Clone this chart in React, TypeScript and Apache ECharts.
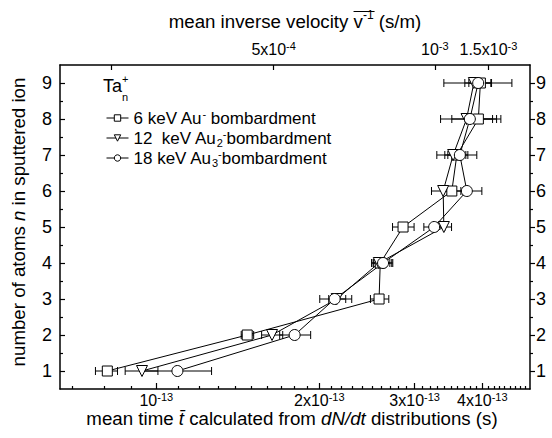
import React, { useEffect, useRef } from 'react';
import * as echarts from 'echarts';

const FONT = '"Liberation Sans", Arial, Helvetica, sans-serif';

// number of atoms n
const nValues = [1, 2, 3, 4, 5, 6, 7, 8, 9];

// 6 keV Au- bombardment (squares): mean time t (s) and error-bar ends
const sqT = [8.12e-14, 1.472e-13, 2.579e-13, 2.592e-13, 2.856e-13, 3.514e-13, 3.59e-13, 3.934e-13, 3.968e-13];
const sqLow = [7.72e-14, 1.435e-13, 2.486e-13, 2.5e-13, 2.731e-13, 3.397e-13, 3.455e-13, 3.741e-13, 3.778e-13];
const sqHigh = [8.48e-14, 1.513e-13, 2.688e-13, 2.722e-13, 2.993e-13, 3.652e-13, 3.73e-13, 4.251e-13, 4.148e-13];

// 12 keV Au2- bombardment (down triangles)
const triT = [9.41e-14, 1.636e-13, 2.154e-13, 2.576e-13, 3.397e-13, 3.387e-13, 3.534e-13, 3.741e-13, 3.859e-13];
const triLow = [8.76e-14, 1.565e-13, 2.082e-13, 2.5e-13, 3.283e-13, 3.223e-13, 3.297e-13, 3.35e-13, 3.714e-13];
const triHigh = [1.007e-13, 1.712e-13, 2.238e-13, 2.7e-13, 3.51e-13, 3.559e-13, 3.762e-13, 4.179e-13, 4.161e-13];

// 18 keV Au3- bombardment (circles)
const cirT = [1.094e-13, 1.801e-13, 2.135e-13, 2.623e-13, 3.26e-13, 3.746e-13, 3.636e-13, 3.794e-13, 3.931e-13];
const cirLow = [9.43e-14, 1.69e-13, 2.004e-13, 2.52e-13, 3.12e-13, 3.514e-13, 3.411e-13, 3.514e-13, 3.397e-13];
const cirHigh = [1.265e-13, 1.928e-13, 2.296e-13, 2.734e-13, 3.411e-13, 3.993e-13, 3.908e-13, 4.329e-13, 4.537e-13];

const seriesNames = ['6 keV Au- bombardment', '12 keV Au2- bombardment', '18 keV Au3- bombardment'];
const legendLabels = [
  '6 keV Au{sup|-} bombardment',
  '12  keV Au{sub|2}{sup|-}bombardment',
  '18 keV Au{sub|3}{sup|-}bombardment',
];

// axis ranges and ticks
const tMin = 6.64e-14;
const tMax = 4.9e-13;
const bottomMajorTicks = [1e-13, 2e-13, 3e-13, 4e-13];
const bottomTickLabels = ['10^-13', '2x10^-13', '3x10^-13', '4x10^-13'];
const bottomMinorTicks = [
  7e-14, 8e-14, 9e-14,
  1.1e-13, 1.2e-13, 1.3e-13, 1.4e-13, 1.5e-13, 1.6e-13, 1.7e-13, 1.8e-13, 1.9e-13,
  2.1e-13, 2.2e-13, 2.3e-13, 2.4e-13, 2.5e-13, 2.6e-13, 2.7e-13, 2.8e-13, 2.9e-13,
  3.1e-13, 3.2e-13, 3.3e-13, 3.4e-13, 3.5e-13, 3.6e-13, 3.7e-13, 3.8e-13, 3.9e-13,
  4.1e-13, 4.2e-13, 4.3e-13, 4.4e-13, 4.5e-13, 4.6e-13, 4.7e-13, 4.8e-13,
];
// top axis (mean inverse velocity), placed at the equivalent mean time
const topTickTimes = [1.647e-13, 3.269e-13, 4.106e-13];
const topTickLabels = ['5x10^-4', '10^-3', '1.5x10^-3'];
const topMinorTimes = [8.26e-14];

const yMin = 0.5;
const yMax = 9.5;
const yMajorTicks = [1, 2, 3, 4, 5, 6, 7, 8, 9];
const yMinorTicks = [1.5, 2.5, 3.5, 4.5, 5.5, 6.5, 7.5, 8.5];

const toRich = (s: string) => {
  const [base, exp] = s.split('^');
  return exp ? `{n|${base}}{s|${exp}}` : `{n|${base}}`;
};
const labelRich = {
  n: { fontFamily: FONT, fontSize: 16, color: '#000', lineHeight: 19 },
  s: { fontFamily: FONT, fontSize: 11, color: '#000', lineHeight: 9, verticalAlign: 'top' as const },
};
const pickLabel = (v: number, vals: number[], labels: string[]) => {
  for (let i = 0; i < vals.length; i++) {
    if (Math.abs(v - vals[i]) / vals[i] < 1e-3) return toRich(labels[i]);
  }
  return '';
};

const measure = (text: string, font: string) => {
  const c = document.createElement('canvas').getContext('2d');
  if (!c) return text.length * 8;
  c.font = font;
  return c.measureText(text).width;
};

export default function App() {
  const ref = useRef<HTMLDivElement>(null);
  useEffect(() => {
    if (!ref.current) return;
    const chart = echarts.init(ref.current, undefined, { renderer: 'svg' });
    const axisLineStyle = { color: '#000', width: 1.5 };
    const tickStyle = { color: '#000', width: 1.2 };
    const NAME_FS = 18.7;

    const errSeries = (low: number[], high: number[]) => ({
      type: 'custom',
      coordinateSystem: 'cartesian2d',
      xAxisIndex: 0,
      yAxisIndex: 0,
      silent: true,
      z: 2,
      encode: { x: [0, 1], y: 2 },
      data: nValues.map((n, i) => [low[i], high[i], n]),
      renderItem: (_p: any, api: any) => {
        const lo = api.coord([api.value(0), api.value(2)]);
        const hi = api.coord([api.value(1), api.value(2)]);
        const h = 4;
        const st = { stroke: '#000', lineWidth: 1 };
        return {
          type: 'group',
          children: [
            { type: 'line', shape: { x1: lo[0], y1: lo[1], x2: hi[0], y2: hi[1] }, style: st },
            { type: 'line', shape: { x1: lo[0], y1: lo[1] - h, x2: lo[0], y2: lo[1] + h }, style: st },
            { type: 'line', shape: { x1: hi[0], y1: hi[1] - h, x2: hi[0], y2: hi[1] + h }, style: st },
          ],
        };
      },
    });

    const lineSeries = (name: string, t: number[], symbol: string, size: number) => ({
      type: 'line',
      name,
      xAxisIndex: 0,
      yAxisIndex: 0,
      z: 3,
      symbol,
      symbolSize: size,
      showAllSymbol: true,
      lineStyle: { color: '#000', width: 1 },
      itemStyle: { color: '#fff', borderColor: '#000', borderWidth: 1 },
      data: nValues.map((n, i) => [t[i], n]),
    });

    // axis titles
    const fName = `${NAME_FS}px ${FONT}`;
    const f11 = `12px ${FONT}`;
    const topA = 'mean inverse velocity ';
    const topV = 'v';
    const topS = '-1';
    const topB = ' (s/m)';
    const wA = measure(topA, fName);
    const wV = measure(topV, fName);
    const wS = measure(topS, f11);
    const wB = measure(topB, fName);
    const topCx = 295;
    const topStart = topCx - (wA + wV + wS + wB) / 2;

    chart.setOption({
      animation: false,
      backgroundColor: '#fff',
      textStyle: { fontFamily: FONT },
      grid: { left: 60, right: 22, top: 65, bottom: 49, containLabel: false },
      legend: {
        data: seriesNames,
        orient: 'vertical',
        left: 101,
        top: 103,
        itemGap: 0,
        itemWidth: 22,
        itemHeight: 8,
        lineStyle: { width: 1, color: '#000' },
        itemStyle: { borderWidth: 1, borderColor: '#000', color: '#fff' },
        textStyle: {
          fontFamily: FONT,
          fontSize: 17,
          color: '#000',
          lineHeight: 20,
          rich: {
            sup: { fontFamily: FONT, fontSize: 11, lineHeight: 11, verticalAlign: 'top', color: '#000' },
            sub: { fontFamily: FONT, fontSize: 11, lineHeight: 11, verticalAlign: 'bottom', color: '#000' },
          },
        },
        formatter: (name: string) => legendLabels[seriesNames.indexOf(name)],
      },
      xAxis: [
        {
          type: 'log', position: 'bottom', min: tMin, max: tMax,
          axisLine: { show: true, lineStyle: axisLineStyle },
          axisTick: { show: true, inside: true, length: 6, customValues: bottomMajorTicks, lineStyle: tickStyle },
          axisLabel: {
            show: true, margin: 2, customValues: bottomMajorTicks, rich: labelRich,
            formatter: (v: number) => pickLabel(v, bottomMajorTicks, bottomTickLabels),
          },
          splitLine: { show: false },
        },
        {
          type: 'log', position: 'bottom', min: tMin, max: tMax,
          axisLine: { show: false },
          axisTick: { show: true, inside: true, length: 3, customValues: bottomMinorTicks, lineStyle: tickStyle },
          axisLabel: { show: false },
          splitLine: { show: false },
        },
        {
          type: 'log', position: 'top', min: tMin, max: tMax,
          axisLine: { show: true, lineStyle: axisLineStyle },
          axisTick: { show: true, inside: true, length: 5, customValues: [...topMinorTimes, ...topTickTimes], lineStyle: tickStyle },
          axisLabel: {
            show: true, margin: 6, customValues: topTickTimes, rich: labelRich,
            formatter: (v: number) => pickLabel(v, topTickTimes, topTickLabels),
          },
          splitLine: { show: false },
        },
      ],
      yAxis: [
        {
          type: 'value', position: 'left', min: yMin, max: yMax,
          axisLine: { show: true, lineStyle: axisLineStyle },
          axisTick: { show: true, inside: true, length: 5, customValues: yMajorTicks, lineStyle: tickStyle },
          axisLabel: { show: true, margin: 8, customValues: yMajorTicks, fontSize: 18, color: '#000', fontFamily: FONT },
          splitLine: { show: false },
        },
        {
          type: 'value', position: 'left', min: yMin, max: yMax,
          axisLine: { show: false },
          axisTick: { show: true, inside: true, length: 3, customValues: yMinorTicks, lineStyle: tickStyle },
          axisLabel: { show: false },
          splitLine: { show: false },
        },
        {
          type: 'value', position: 'right', min: yMin, max: yMax,
          axisLine: { show: true, lineStyle: axisLineStyle },
          axisTick: { show: true, inside: false, length: 5, customValues: yMajorTicks, lineStyle: tickStyle },
          axisLabel: { show: true, margin: 6, customValues: yMajorTicks, fontSize: 18, color: '#000', fontFamily: FONT },
          splitLine: { show: false },
        },
        {
          type: 'value', position: 'right', min: yMin, max: yMax,
          axisLine: { show: false },
          axisTick: { show: true, inside: false, length: 3, customValues: yMinorTicks, lineStyle: tickStyle },
          axisLabel: { show: false },
          splitLine: { show: false },
        },
      ],
      graphic: [
        {
          type: 'text', x: topStart, y: 21,
          style: {
            text: `{a|${topA}}{a|${topV}}{s|${topS}}{a|${topB}}`,
            align: 'left', verticalAlign: 'middle',
            rich: {
              a: { fontFamily: FONT, fontSize: NAME_FS, fill: '#000', lineHeight: 24 },
              s: { fontFamily: FONT, fontSize: 12, fill: '#000', lineHeight: 14, verticalAlign: 'top' },
            },
          },
        },
        {
          type: 'line',
          shape: { x1: topStart + wA, y1: 11.5, x2: topStart + wA + wV + wS + 1, y2: 11.5 },
          style: { stroke: '#000', lineWidth: 1 },
        },
        {
          type: 'text', x: 292, y: 418,
          style: {
            text: '{a|mean time }{i|t\u0304}{a| calculated from }{i|dN/dt}{a| distributions (s)}',
            align: 'center', verticalAlign: 'middle',
            rich: {
              a: { fontFamily: FONT, fontSize: NAME_FS, fill: '#000', lineHeight: 18 },
              i: { fontFamily: FONT, fontSize: NAME_FS, fontStyle: 'italic', fill: '#000', lineHeight: 18 },
            },
          },
        },
        {
          type: 'text', x: 18, y: 222, rotation: Math.PI / 2,
          style: {
            text: '{a|number of atoms }{i|n}{a| in sputtered ion}',
            align: 'center', verticalAlign: 'middle',
            rich: {
              a: { fontFamily: FONT, fontSize: NAME_FS, fill: '#000' },
              i: { fontFamily: FONT, fontSize: NAME_FS, fontStyle: 'italic', fill: '#000' },
            },
          },
        },
        {
          type: 'text', x: 103, y: 86,
          style: { text: 'Ta', fontFamily: FONT, fontSize: 18, fill: '#000', align: 'left', verticalAlign: 'middle' },
        },
        {
          type: 'text', x: 122, y: 97,
          style: { text: 'n', fontFamily: FONT, fontSize: 11, fill: '#000', align: 'left', verticalAlign: 'middle' },
        },
        {
          type: 'text', x: 122, y: 79,
          style: { text: '+', fontFamily: FONT, fontSize: 11, fill: '#000', align: 'left', verticalAlign: 'middle' },
        },
      ],
      series: [
        errSeries(sqLow, sqHigh),
        errSeries(triLow, triHigh),
        errSeries(cirLow, cirHigh),
        lineSeries(seriesNames[0], sqT, 'rect', 10),
        lineSeries(seriesNames[1], triT, 'path://M0,0 L10,0 L5,9 Z', 11),
        lineSeries(seriesNames[2], cirT, 'circle', 11),
      ],
    });
    return () => chart.dispose();
  }, []);
  return <div ref={ref} style={{ position: 'fixed', left: 0, top: 0, width: 552, height: 438 }} />;
}
